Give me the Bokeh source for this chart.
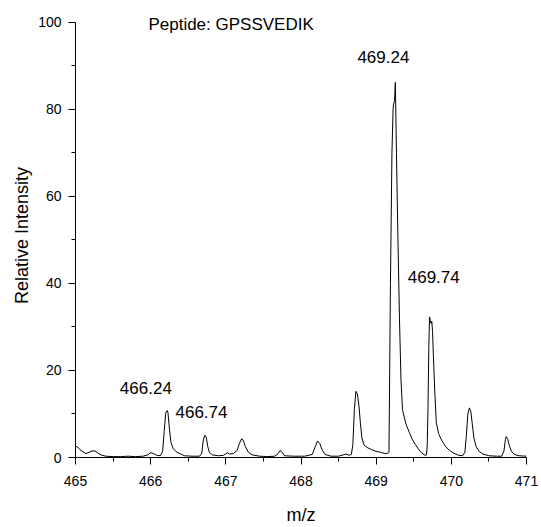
from bokeh.plotting import figure
from bokeh.models import Range1d, FixedTicker, ColumnDataSource, LabelSet
from bokeh.core.properties import value
from bokeh.embed import file_html
from bokeh.resources import INLINE

mz = [465.00, 465.03, 465.06, 465.10, 465.14, 465.18, 465.22, 465.26, 465.30, 465.34,
      465.40, 465.50, 465.60, 465.70, 465.80, 465.90, 465.96, 466.00, 466.04, 466.08,
      466.13, 466.16, 466.18, 466.20, 466.22, 466.23, 466.25, 466.27, 466.30, 466.35,
      466.40, 466.45, 466.55, 466.65, 466.68, 466.70, 466.72, 466.74, 466.76, 466.78,
      466.82, 466.90, 466.97, 467.02, 467.05, 467.10, 467.15, 467.18, 467.21, 467.23,
      467.26, 467.30, 467.35, 467.45, 467.55, 467.65, 467.69, 467.72, 467.75, 467.78,
      467.90, 468.05, 468.15, 468.19, 468.22, 468.25, 468.28, 468.32, 468.40, 468.50,
      468.56, 468.60, 468.64, 468.67, 468.69, 468.71, 468.73, 468.75, 468.77, 468.79,
      468.81, 468.84, 468.88, 468.94, 469.00, 469.06, 469.12, 469.16, 469.17, 469.175,
      469.19, 469.21, 469.225, 469.23, 469.245, 469.255, 469.27, 469.29, 469.31, 469.33,
      469.35, 469.37, 469.40, 469.44, 469.48, 469.52, 469.56, 469.60, 469.65, 469.67,
      469.68, 469.69, 469.70, 469.71, 469.72, 469.73, 469.74, 469.75, 469.76, 469.78,
      469.80, 469.83, 469.87, 469.92, 469.97, 470.03, 470.10, 470.15, 470.18, 470.20,
      470.22, 470.24, 470.26, 470.28, 470.30, 470.33, 470.37, 470.42, 470.50, 470.60,
      470.67, 470.70, 470.72, 470.73, 470.75, 470.77, 470.80, 470.84, 470.90, 471.00]

intensity = [2.6, 2.4, 1.8, 1.3, 0.9, 1.2, 1.5, 1.5, 1.0, 0.6,
             0.3, 0.2, 0.2, 0.3, 0.2, 0.3, 0.6, 1.1, 0.9, 0.5,
             0.4, 1.5, 6.0, 10.2, 10.8, 10.3, 6.5, 3.5, 2.0, 1.2,
             0.8, 0.4, 0.3, 0.3, 1.0, 4.0, 5.1, 4.6, 2.5, 1.2,
             0.6, 0.4, 0.5, 1.1, 0.8, 0.9, 1.6, 3.2, 4.3, 4.0,
             2.5, 1.2, 0.6, 0.3, 0.2, 0.3, 0.8, 1.6, 1.2, 0.4,
             0.3, 0.3, 0.7, 2.5, 3.8, 3.2, 1.8, 0.7, 0.3, 0.3,
             0.6, 0.8, 0.5, 0.7, 3.0, 11.0, 15.2, 14.6, 12.0, 8.0,
             4.5, 2.8, 2.3, 1.8, 1.4, 1.2, 0.9, 1.0, 1.2, 10.0,
             40.0, 70.0, 80.0, 81.0, 82.0, 86.2, 70.0, 50.0, 32.0, 18.0,
             11.0, 9.5, 7.5, 5.8, 4.2, 3.0, 2.0, 1.1, 0.5, 0.6,
             3.0, 12.0, 25.0, 32.3, 31.5, 30.8, 31.3, 29.0, 24.0, 15.0,
             8.0, 5.5, 4.0, 2.6, 1.7, 1.0, 0.5, 0.4, 1.2, 5.0,
             10.0, 11.4, 10.5, 7.5, 4.5, 2.5, 1.4, 0.8, 0.4, 0.3,
             0.3, 1.5, 4.2, 4.8, 4.2, 2.8, 1.4, 0.7, 0.4, 0.3]

x_ticks = [465, 466, 467, 468, 469, 470, 471]
x_minor = [465.5, 466.5, 467.5, 468.5, 469.5, 470.5]
y_ticks = [0, 20, 40, 60, 80, 100]
y_minor = [10, 30, 50, 70, 90]

label_texts = ["Peptide: GPSSVEDIK", "469.24", "469.74", "466.24", "466.74"]
label_x = [465.97, 468.75, 469.42, 465.59, 466.33]
label_y = [99.4, 92.0, 41.4, 15.9, 10.4]

FONT = "Liberation Sans"

p = figure(width=541, height=527, output_backend="svg", toolbar_location=None,
           x_range=Range1d(465, 471), y_range=Range1d(0, 102),
           min_border_left=75, min_border_right=15, min_border_top=13, min_border_bottom=68)
p.outline_line_color = None
p.xgrid.visible = False
p.ygrid.visible = False
p.background_fill_color = "white"
p.border_fill_color = "white"

p.line(mz, intensity, line_color="black", line_width=1)

src = ColumnDataSource(dict(x=label_x, y=label_y, t=label_texts))
labels = LabelSet(x="x", y="y", text="t", source=src, text_font=value(FONT),
                  text_font_size=value("17px"), text_align="left", text_baseline="middle",
                  text_color="black")
p.add_layout(labels)

p.xaxis.ticker = FixedTicker(ticks=x_ticks, minor_ticks=x_minor)
p.yaxis.ticker = FixedTicker(ticks=y_ticks, minor_ticks=y_minor)
p.yaxis.bounds = (0, 100)

for ax in (p.xaxis[0], p.yaxis[0]):
    ax.axis_line_color = "black"
    ax.axis_line_width = 1
    ax.major_tick_in = 0
    ax.major_tick_out = 7
    ax.minor_tick_in = 0
    ax.minor_tick_out = 4
    ax.major_tick_line_color = "black"
    ax.minor_tick_line_color = "black"
    ax.major_label_text_font = FONT
    ax.major_label_text_font_size = "14px"
    ax.major_label_text_color = "black"
    ax.axis_label_text_font = FONT
    ax.axis_label_text_font_size = "18px"
    ax.axis_label_text_font_style = "normal"
    ax.axis_label_text_color = "black"

p.xaxis.axis_label = "m/z"
p.yaxis.axis_label = "Relative Intensity"
p.xaxis.major_label_standoff = 11
p.xaxis.axis_label_standoff = 16
p.yaxis.major_label_standoff = 7
p.yaxis.axis_label_standoff = 3

open("out.html", "w").write(file_html(p, INLINE))
